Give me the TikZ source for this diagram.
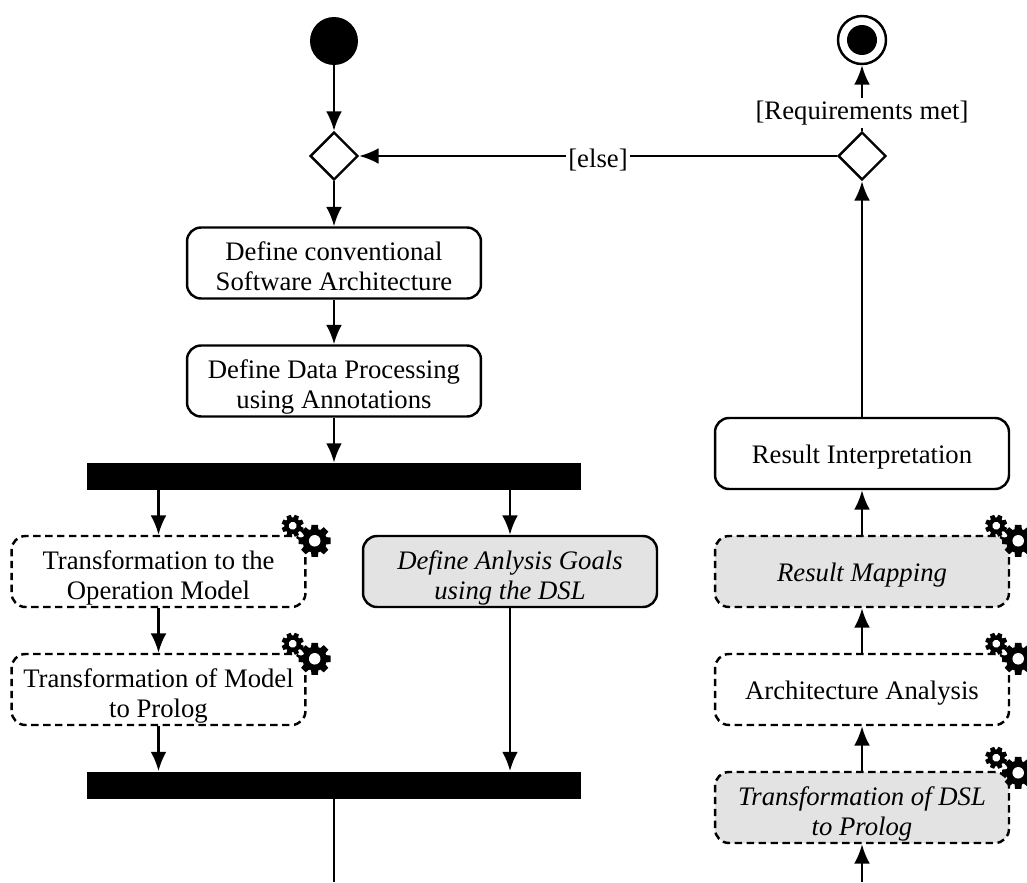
\documentclass[tikz,border=0pt]{standalone}
\usepackage{fontspec}
\setmainfont{Liberation Serif}
\usetikzlibrary{arrows.meta,shapes.geometric}

\tikzset{
  every node/.style={font=\fontsize{15.2}{17}\selectfont},
  action/.style={draw, line width=1.4pt, rounded corners=0.28cm, minimum width=5.88cm, minimum height=1.42cm, align=center, inner sep=0pt, execute at begin node={\rule{0pt}{15pt}}, execute at end node={\rule[-3.3pt]{0pt}{1pt}}},
  two lines/.style={execute at begin node={\rule{0pt}{35pt}}},
  auto action/.style={action, dash pattern=on 4.2pt off 2.6pt},
  dsl/.style={fill=black!11, font=\fontsize{15.2}{17}\selectfont\itshape},
  decision/.style={draw, fill=white, line width=1.4pt, diamond, aspect=1, minimum size=0.96cm, inner sep=0pt},
  bar/.style={fill=black, minimum width=9.88cm, minimum height=0.54cm, inner sep=0pt},
  flow/.style={line width=1.4pt, -{Latex[length=11pt,width=9pt]}},
  guard/.style={fill=white, inner sep=1.5pt, yshift=-0.08cm},
  gearwheel/.pic={
    \foreach \a in {0,45,...,315}
      \fill [black, rotate=\a] (-0.3,0) -- (-0.2,1) -- (0.2,1) -- (0.3,0) -- cycle;
    \fill [black] (0,0) circle (0.76);
    \fill [white] (0,0) circle (0.36);
  },
  gears/.pic={
    \pic [scale=11, rotate=22.5] at (-14,-9) {gearwheel};
    \pic [scale=16] at (8,6) {gearwheel};
  }
}

\begin{document}
\begin{tikzpicture}[x=0.02cm, y=-0.02cm]

\useasboundingbox (0,0) rectangle (1027,882);
\clip (0,0) rectangle (1027,882);

\coordinate (bottomleft) at (334,882);
\coordinate (bottomright) at (862,882);


\node [circle, fill=black, minimum size=0.96cm, inner sep=0pt] (start) at (334,41) {};
\node [decision] (merge) at (334,156) {};
\node [decision] (check) at (862,156) {};
\node [circle, draw, line width=1.4pt, minimum size=0.96cm, inner sep=0pt] (end) at (862,40) {};
\node [circle, fill=black, minimum size=0.6cm, inner sep=0pt] (enddot) at (862,40) {};

\node [action, two lines] (conventional) at (334,263) {Define conventional\\Software Architecture};
\node [action, two lines] (annotations) at (334,381) {Define Data Processing\\using Annotations};
\node [bar] (fork) at (334,476.5) {};
\node [auto action, two lines] (operation) at (158.5,571.5) {Transformation to the\\Operation Model};
\node [auto action, two lines] (modelprolog) at (158.5,689.5) {Transformation of Model\\to Prolog};
\node [action, two lines, dsl] (goals) at (510,571.5) {Define Anlysis Goals\\using the DSL};
\node [bar] (join) at (334,785) {};

\node [action] (interpretation) at (862,453.5) {Result Interpretation};
\node [auto action, dsl] (mapping) at (862,571.5) {Result Mapping};
\node [auto action] (analysis) at (862,689.5) {Architecture Analysis};
\node [auto action, two lines, dsl] (dslprolog) at (862,807.5) {Transformation of DSL\\to Prolog};


\draw [flow] (start) -- (merge);
\draw [flow] (merge) -- (conventional);
\draw [flow] (conventional) -- (annotations);
\draw [flow] (annotations) -- (annotations |- fork.north);
\draw [flow] (operation |- fork.south) -- (operation);
\draw [flow] (goals |- fork.south) -- (goals);
\draw [flow] (operation) -- (modelprolog);
\draw [flow] (modelprolog) -- (modelprolog |- join.north);
\draw [flow] (goals) -- (goals |- join.north);
\draw [line width=1.4pt] (join) -- (bottomleft);

\draw [flow] (bottomright) -- (dslprolog);
\draw [flow] (dslprolog) -- (analysis);
\draw [flow] (analysis) -- (mapping);
\draw [flow] (mapping) -- (interpretation);
\draw [flow] (interpretation) -- (check);
\draw [flow] (check) -- node [guard, pos=0.33] (met) {[Requirements met]} (end);
\draw [flow] (check) -- node [guard] (else) {[else]} (merge);


\path (operation.north east) pic {gears};
\path (modelprolog.north east) pic {gears};
\path (mapping.north east) pic {gears};
\path (analysis.north east) pic {gears};
\path ([yshift=0.08cm]dslprolog.north east) pic {gears};

\end{tikzpicture}
\end{document}
